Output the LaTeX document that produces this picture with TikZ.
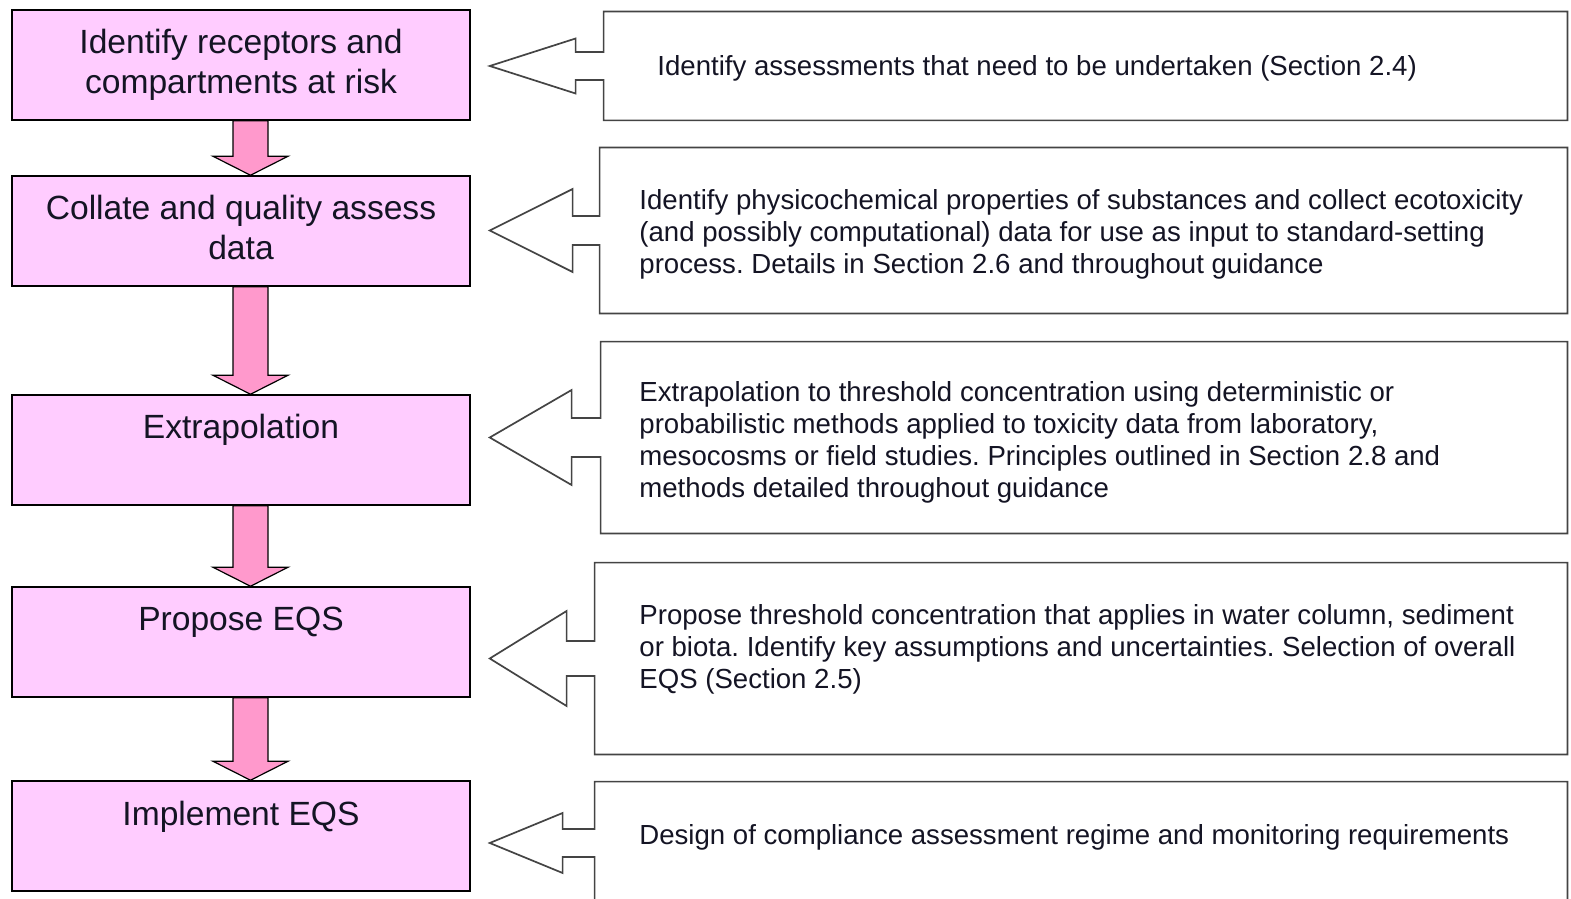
\documentclass[tikz,border=0pt]{standalone}
\usepackage{fontspec}
\setmainfont{Liberation Sans}
\usetikzlibrary{calc}
\frenchspacing

\definecolor{stagefill}{HTML}{FFCCFF}
\definecolor{arrowfill}{HTML}{FF99CC}
\definecolor{calloutline}{HTML}{444444}
\definecolor{inkcol}{HTML}{141424}

\tikzset{
  stagebox/.style={draw=black, line width=0.75pt, fill=stagefill,
    minimum width=229pt, minimum height=55pt, inner sep=0pt},
  stagetext/.style={anchor=north, align=center, inner sep=0pt, text=inkcol,
    font=\fontsize{16.8pt}{20pt}\selectfont},
  notebox/.style={inner sep=0pt, draw=none},
  notetext/.style={anchor=north west, align=left, inner sep=0pt, text=inkcol,
    font=\fontsize{13.8pt}{16pt}\selectfont},
  downarrow/.style={draw=black, line width=0.6pt, fill=arrowfill, line join=miter},
  calloutshape/.style={draw=calloutline, line width=0.85pt, fill=white, line join=miter}
}

% block arrow from the bottom of one stage to the top of the next
\newcommand\drawdown[2]{%
  \draw[downarrow] let \p1=(#1.south), \p2=(#2.north) in
    (\x1-4pt,\y1) -- (\x1-4pt,\y2+9.5pt) -- (\x1-14pt,\y2+9.5pt) --
    (\x1+4.75pt,\y2) -- (\x1+23.5pt,\y2+9.5pt) -- (\x1+13.5pt,\y2+9.5pt) --
    (\x1+13.5pt,\y1) -- cycle;}

% note box with a left-pointing arrow towards its stage
% #1 note, #2 stage, #3 head base offset, #4 head half height, #5 shaft half height
\newcommand\drawcallout[5]{%
  \draw[calloutshape] let \p1=(#1.north west), \p2=(#1.south east),
      \p3=(#2.east), \p4=(#1.west) in
    (\x1,\y1) -- (\x2,\y1) -- (\x2,\y2) -- (\x1,\y2) --
    (\x1,\y4-#5) -- (\x1-#3,\y4-#5) -- (\x1-#3,\y4-#4) --
    (\x3+9.5pt,\y4) --
    (\x1-#3,\y4+#4) -- (\x1-#3,\y4+#5) -- (\x1,\y4+#5) -- cycle;}

\begin{document}
\begin{tikzpicture}[x=0.5pt,y=-0.5pt]
\useasboundingbox (0,0) rectangle (1571,899);
\fill[white] (0,0) rectangle (1571,899);

% process stages
\node[stagebox] (s1) at (241,65) {};
\node[stagebox] (s2) at (241,231) {};
\node[stagebox] (s3) at (241,450) {};
\node[stagebox] (s4) at (241,642) {};
\node[stagebox] (s5) at (241,836) {};

\node[stagetext] (s1t) at ($(s1.north)+(0,20)$) {Identify receptors and\\compartments at risk};
\node[stagetext] (s2t) at ($(s2.north)+(0,20)$) {Collate and quality assess\\data};
\node[stagetext] (s3t) at ($(s3.north)+(0,20)$) {Extrapolation};
\node[stagetext] (s4t) at ($(s4.north)+(0,20)$) {Propose EQS};
\node[stagetext] (s5t) at ($(s5.north)+(0,20)$) {Implement EQS};

\drawdown{s1}{s2}
\drawdown{s2}{s3}
\drawdown{s3}{s4}
\drawdown{s4}{s5}

% notes
\node[notebox, minimum width=481.5pt, minimum height=54pt] (c1) at (1085.5,66) {};
\node[notebox, minimum width=483.5pt, minimum height=82.5pt] (c2) at (1083.5,230.5) {};
\node[notebox, minimum width=483pt, minimum height=95.5pt] (c3) at (1084,437.5) {};
\node[notebox, minimum width=486pt, minimum height=95.5pt] (c4) at (1081,658.5) {};
\node[notebox, minimum width=486pt, minimum height=61pt] (c5) at (1081,843) {};

\drawcallout{c1}{s1}{14pt}{13.75pt}{7pt}
\drawcallout{c2}{s2}{13.5pt}{20.75pt}{7.25pt}
\drawcallout{c3}{s3}{14.5pt}{23.75pt}{9.75pt}
\drawcallout{c4}{s4}{14pt}{23.75pt}{8.75pt}
\drawcallout{c5}{s5}{16pt}{15pt}{7pt}

\node[notetext] (t1) at (657,55) {Identify assessments that need to be undertaken (Section 2.4)};
\node[notetext] (t2) at (639,189) {Identify physicochemical properties of substances and collect ecotoxicity\\(and possibly computational) data for use as input to standard-setting\\process. Details in Section 2.6 and throughout guidance};
\node[notetext] (t3) at (639,381) {Extrapolation to threshold concentration using deterministic or\\probabilistic methods applied to toxicity data from laboratory,\\mesocosms or field studies. Principles outlined in Section 2.8 and\\methods detailed throughout guidance};
\node[notetext] (t4) at (639,604) {Propose threshold concentration that applies in water column, sediment\\or biota. Identify key assumptions and uncertainties. Selection of overall\\EQS (Section 2.5)};
\node[notetext] (t5) at (639,824) {Design of compliance assessment regime and monitoring requirements};
\end{tikzpicture}
\end{document}
